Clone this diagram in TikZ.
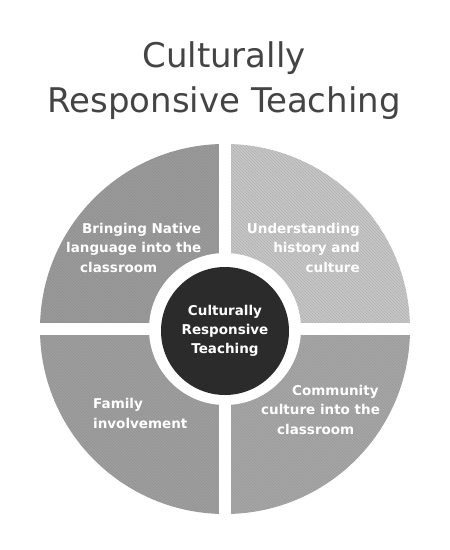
\documentclass[tikz,border=0pt]{standalone}
\usepackage{fontspec}
\setmainfont{DejaVu Sans}
\usetikzlibrary{patterns}
\definecolor{qtl}{HTML}{9A9A9A}
\definecolor{qtr}{HTML}{C6C6C6}
\definecolor{qbl}{HTML}{9E9E9E}
\definecolor{qbr}{HTML}{A6A6A6}
\definecolor{hubc}{HTML}{2B2B2B}
\definecolor{titlec}{HTML}{444444}
\tikzset{
  quadlabel/.style={text=white, font=\bfseries\fontsize{13.5}{19.5}\selectfont, inner sep=0pt, anchor=base west},
  titletext/.style={text=titlec, font=\fontsize{34}{45}\selectfont, inner sep=0pt, anchor=base},
  hub/.style={circle, fill=hubc, minimum size=128pt, inner sep=0pt, text=white, align=center,
              font=\bfseries\fontsize{13.5}{19}\selectfont},
}
\begin{document}
\begin{tikzpicture}[x=1pt,y=-1pt]
\useasboundingbox (0,0) rectangle (450,550);
\fill[white] (0,0) rectangle (450,550);
% title
\node[titletext] (t1) at (224,67) {Culturally};
\node[titletext] (t2) at (224,112) {Responsive Teaching};
% quadrants
\begin{scope}
  \clip (225,329) circle (185);
  \fill[qtl] (0,0) rectangle (225,329);
  \fill[qtr] (225,0) rectangle (450,329);
  \fill[qbl] (0,329) rectangle (225,550);
  \fill[qbr] (225,329) rectangle (450,550);
  \fill[pattern=north west lines, pattern color=black!55, opacity=0.25] (0,0) rectangle (450,550);
\end{scope}
% separators
\fill[white] (219,130) rectangle (231,530);
\fill[white] (30,323) rectangle (420,335);
\fill[white] (225,329) circle (76);
% hub
\node[hub] (hub) at (225,331) {Culturally\\Responsive\\Teaching};
% labels (base anchor = last line)
\node[quadlabel, align=left] (tl) at (66,272) {\hspace*{16pt}Bringing Native\\language into the\\\hspace*{14pt}classroom};
\node[quadlabel, align=right, anchor=base east] (tr) at (360,272) {Understanding\\history and\\culture};
\node[quadlabel, align=left] (bl) at (93,428) {Family\\involvement};
\node[quadlabel, align=left] (br) at (261,434) {\hspace*{31pt}Community\\culture into the\\\hspace*{16pt}classroom};
\end{tikzpicture}
\end{document}
